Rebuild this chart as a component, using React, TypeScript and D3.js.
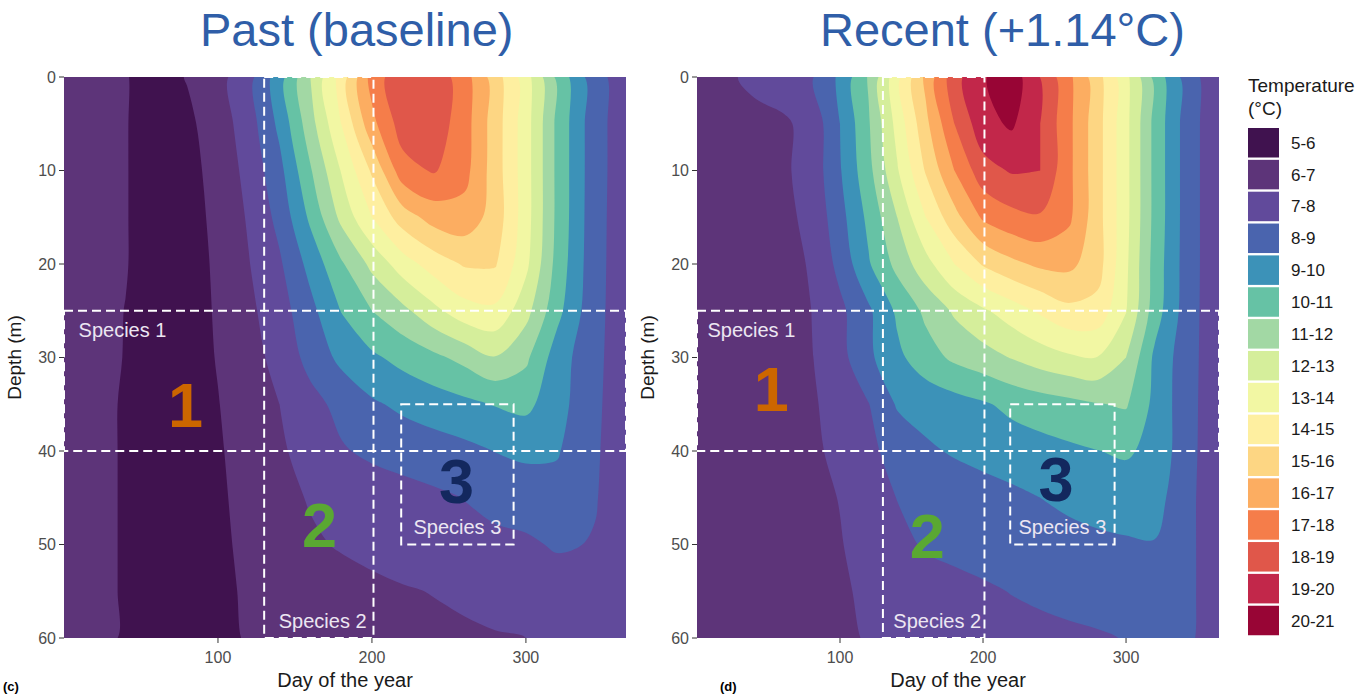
import React from "react";
import * as d3 from "d3";

// grid of the temperature field: columns are days of the year, rows are depths (m)
const days = [0, 20, 40, 60, 80, 100, 120, 140, 160, 180, 200, 220, 240, 260, 280, 300, 320, 345, 365];
const depths = [0, 5, 10, 15, 20, 25, 30, 35, 40, 45, 50, 55, 60];

// Past (baseline), °C, one row per depth
const pastTemp = [
  [6.6, 6.3, 6.05, 5.6, 6.05, 6.67, 7.65, 9.57, 12.0, 14.4, 17.4, 18.8, 18.7, 17.45, 15.5, 13.45, 10.8, 8.33, 7.5],
  [6.6, 6.3, 6.05, 5.5, 5.8, 6.48, 7.53, 9.25, 11.6, 14.0, 16.7, 18.5, 18.6, 17.45, 15.5, 13.45, 10.8, 8.33, 7.5],
  [6.55, 6.3, 6.05, 5.5, 5.7, 6.32, 7.31, 8.7, 10.9, 13.05, 15.15, 17.6, 18.1, 17.35, 15.5, 13.45, 10.8, 8.33, 7.5],
  [6.5, 6.3, 6.05, 5.5, 5.65, 6.22, 7.11, 8.3, 10.2, 12.25, 14.0, 15.5, 16.4, 16.6, 15.6, 13.45, 10.8, 8.3, 7.5],
  [6.5, 6.3, 6.05, 5.5, 5.6, 6.15, 6.96, 7.86, 9.33, 10.86, 12.25, 13.53, 14.45, 15.1, 15.1, 13.25, 10.67, 8.28, 7.5],
  [6.5, 6.3, 5.98, 5.5, 5.6, 6.1, 6.79, 7.56, 8.7, 10.03, 11.0, 11.74, 12.72, 13.6, 13.8, 12.35, 10.33, 8.25, 7.5],
  [6.45, 6.25, 5.97, 5.5, 5.6, 6.05, 6.63, 7.32, 8.33, 9.24, 9.82, 10.32, 10.77, 11.3, 11.95, 11.2, 9.53, 8.2, 7.5],
  [6.4, 6.2, 5.93, 5.5, 5.6, 5.97, 6.47, 7.0, 7.67, 8.29, 8.86, 9.2, 9.5, 9.75, 10.05, 10.25, 9.41, 8.15, 7.5],
  [6.4, 6.2, 5.93, 5.5, 5.6, 5.9, 6.39, 6.86, 7.37, 7.9, 8.2, 8.4, 8.55, 8.75, 9.02, 9.2, 9.1, 8.1, 7.5],
  [6.4, 6.2, 5.93, 5.5, 5.6, 5.85, 6.3, 6.72, 7.07, 7.25, 7.45, 7.63, 7.82, 8.02, 8.25, 8.45, 8.6, 8.05, 7.5],
  [6.4, 6.2, 5.93, 5.45, 5.55, 5.8, 6.23, 6.55, 6.87, 7.08, 7.25, 7.4, 7.55, 7.7, 7.8, 7.85, 8.1, 7.95, 7.5],
  [6.4, 6.2, 5.93, 5.45, 5.5, 5.75, 6.15, 6.35, 6.5, 6.65, 6.8, 6.93, 7.03, 7.15, 7.3, 7.45, 7.55, 7.6, 7.5],
  [6.4, 6.2, 5.93, 5.45, 5.5, 5.7, 6.1, 6.25, 6.4, 6.5, 6.6, 6.7, 6.8, 6.87, 6.94, 7.0, 7.25, 7.45, 7.5],
];

// Recent (+1.14°C)
const recentTemp = [
  [6.6, 6.85, 7.2, 7.5, 7.9, 9.2, 11.1, 13.7, 16.25, 18.63, 19.9, 20.6, 18.97, 17.25, 15.4, 13.3, 10.7, 8.3, 7.4],
  [6.55, 6.65, 6.75, 6.85, 7.3, 9.0, 10.9, 13.35, 15.75, 18.0, 19.65, 20.15, 19.0, 17.25, 15.4, 13.3, 10.7, 8.3, 7.4],
  [6.55, 6.6, 6.7, 6.85, 7.35, 8.92, 10.7, 12.9, 15.1, 17.0, 18.6, 19.1, 19.0, 17.25, 15.4, 13.3, 10.7, 8.3, 7.4],
  [6.55, 6.6, 6.7, 6.8, 7.2, 8.65, 10.25, 12.0, 14.0, 15.65, 17.15, 17.7, 17.9, 17.2, 15.4, 13.3, 10.7, 8.3, 7.4],
  [6.55, 6.6, 6.7, 6.8, 7.05, 8.3, 9.9, 11.3, 12.65, 14.0, 15.1, 15.75, 16.2, 16.25, 15.45, 13.2, 10.6, 8.3, 7.4],
  [6.5, 6.55, 6.65, 6.75, 7.0, 7.77, 8.83, 10.18, 11.22, 12.15, 12.85, 13.5, 14.15, 14.75, 14.65, 13.05, 10.5, 8.28, 7.4],
  [6.5, 6.55, 6.62, 6.72, 6.95, 7.67, 8.8, 9.77, 10.57, 11.2, 11.6, 12.05, 12.5, 12.85, 12.97, 12.0, 9.8, 8.25, 7.4],
  [6.45, 6.5, 6.58, 6.68, 6.88, 7.36, 7.97, 9.1, 9.35, 9.6, 9.88, 10.25, 10.5, 10.7, 10.95, 11.1, 9.75, 8.22, 7.4],
  [6.45, 6.5, 6.58, 6.65, 6.82, 7.23, 7.78, 8.35, 8.85, 9.1, 9.3, 9.47, 9.65, 9.82, 9.98, 10.12, 9.75, 8.2, 7.4],
  [6.45, 6.5, 6.55, 6.62, 6.75, 7.03, 7.54, 8.02, 8.25, 8.45, 8.62, 8.8, 9.0, 9.2, 9.38, 9.5, 9.4, 8.15, 7.4],
  [6.45, 6.5, 6.52, 6.58, 6.7, 6.95, 7.35, 7.75, 8.1, 8.25, 8.38, 8.5, 8.6, 8.7, 8.8, 8.88, 8.95, 8.15, 7.4],
  [6.45, 6.5, 6.52, 6.56, 6.65, 6.87, 7.17, 7.4, 7.58, 7.72, 7.87, 8.03, 8.15, 8.25, 8.33, 8.4, 8.45, 8.15, 7.4],
  [6.45, 6.5, 6.52, 6.55, 6.62, 6.8, 7.08, 7.22, 7.35, 7.47, 7.58, 7.68, 7.77, 7.85, 7.92, 8.03, 8.1, 8.12, 7.4],
];

const bands = ["5-6", "6-7", "7-8", "8-9", "9-10", "10-11", "11-12", "12-13", "13-14", "14-15", "15-16", "16-17", "17-18", "18-19", "19-20", "20-21"];
const bandColors = [
  "#40124f", "#5d3479", "#614a9b", "#4a64ae", "#3c92b8", "#66c2a5", "#a2d8a4", "#d5ee9b",
  "#f2f7a3", "#feefa0", "#fdd683", "#fcad61", "#f57d4a", "#e0574a", "#c2274a", "#980535",
];

const dayTicks = [100, 200, 300];
const depthTicks = [0, 10, 20, 30, 40, 50, 60];

// species boxes: [day from, day to, depth from, depth to]
const species1Box = [0, 365, 25, 40];
const species2Box = [130, 201, 0, 60];
const species3Box = [219, 292, 35, 50];

const FONT = "'Liberation Sans', Arial, Helvetica, sans-serif";
const Y0 = 77, Y1 = 638;

const nx = days.length, ny = depths.length;
const idxDay = d3.scaleLinear().domain(d3.range(nx)).range(days).clamp(true);
const idxDepth = d3.scaleLinear().domain(d3.range(ny)).range(depths).clamp(true);

function contourLayers(grid, x, y) {
  const values = grid.flat();
  const gen = d3.contours().size([nx, ny]).thresholds(d3.range(6, 21));
  const pad = 15;
  const [xa, xb] = x.range();
  const [ya, yb] = y.range();
  const px = (c) => (c <= 0 ? xa - pad : c >= nx ? xb + pad : x(idxDay(c - 0.5)));
  const py = (c) => (c <= 0 ? ya - pad : c >= ny ? yb + pad : y(idxDepth(c - 0.5)));
  const line = d3.line().curve(d3.curveCatmullRomClosed.alpha(0.5));
  return gen(values).map((mp) => ({
    value: mp.value,
    d: mp.coordinates
      .map((poly) => poly.map((ring) => line(ring.slice(0, -1).map(([a, b]) => [px(a), py(b)]))).join(""))
      .join(""),
  }));
}

function Panel({ id, temp, x0, x1, labels }) {
  const x = d3.scaleLinear().domain([0, 365]).range([x0, x1]);
  const y = d3.scaleLinear().domain([0, 60]).range([Y0, Y1]);
  const layers = contourLayers(temp, x, y);
  const box = (b, k) => (
    <rect key={k} x={x(b[0])} y={y(b[2])} width={x(b[1]) - x(b[0])} height={y(b[3]) - y(b[2])}
      fill="none" stroke="#ffffff" strokeWidth={2} strokeDasharray="9,5" />
  );
  const white = "#ece6f2";
  return (
    <g>
      <defs>
        <clipPath id={id}>
          <rect x={x0} y={Y0} width={x1 - x0} height={Y1 - Y0} />
        </clipPath>
      </defs>
      <g clipPath={`url(#${id})`}>
        <rect x={x0} y={Y0} width={x1 - x0} height={Y1 - Y0} fill={bandColors[0]} />
        {layers.map((l) => (
          <path key={l.value} d={l.d} fill={bandColors[l.value - 5]} />
        ))}
      </g>
      {box(species1Box, "s1")}
      {box(species2Box, "s2")}
      {box(species3Box, "s3")}

      <text x={x(labels.s1[0])} y={y(labels.s1[1])} fill={white} fontSize={20} textAnchor="middle" fontFamily={FONT}>Species 1</text>
      <text x={x(labels.s2[0])} y={y(labels.s2[1])} fill={white} fontSize={20} textAnchor="middle" fontFamily={FONT}>Species 2</text>
      <text x={x(labels.s3[0])} y={y(labels.s3[1])} fill={white} fontSize={20} textAnchor="middle" fontFamily={FONT}>Species 3</text>
      <text x={x(labels.n1[0])} y={y(labels.n1[1])} fill="#cc6600" fontSize={63} fontWeight="bold" textAnchor="middle" fontFamily={FONT}>1</text>
      <text x={x(labels.n2[0])} y={y(labels.n2[1])} fill="#5aa832" fontSize={63} fontWeight="bold" textAnchor="middle" fontFamily={FONT}>2</text>
      <text x={x(labels.n3[0])} y={y(labels.n3[1])} fill="#13285e" fontSize={63} fontWeight="bold" textAnchor="middle" fontFamily={FONT}>3</text>

      {depthTicks.map((t) => (
        <g key={"y" + t}>
          <line x1={x0 - 5} x2={x0} y1={y(t)} y2={y(t)} stroke="#333333" strokeWidth={1} />
          <text x={x0 - 8} y={y(t) + 5.5} textAnchor="end" fontSize={16} fill="#4d4d4d" fontFamily={FONT}>{t}</text>
        </g>
      ))}
      {dayTicks.map((t) => (
        <g key={"x" + t}>
          <line x1={x(t)} x2={x(t)} y1={Y1} y2={Y1 + 5} stroke="#333333" strokeWidth={1} />
          <text x={x(t)} y={Y1 + 25} textAnchor="middle" fontSize={16} fill="#4d4d4d" fontFamily={FONT}>{t}</text>
        </g>
      ))}
      <text x={(x0 + x1) / 2} y={687} textAnchor="middle" fontSize={20} fill="#1a1a1a" fontFamily={FONT}>Day of the year</text>
      <text transform={`translate(${x0 - 43},${(Y0 + Y1) / 2}) rotate(-90)`} textAnchor="middle" fontSize={19} fill="#1a1a1a" fontFamily={FONT}>Depth (m)</text>
    </g>
  );
}

export default function App() {
  const keyTop = 128, keyStep = 31.85, keyH = 29.5;
  return (
    <svg width={1370} height={694} style={{ position: "absolute", left: 0, top: 0, background: "#ffffff" }}>
      <text x={200} y={46} fontSize={47} fill="#2f5ea8" fontFamily={FONT}>Past (baseline)</text>
      <text x={820} y={46} fontSize={47} fill="#2f5ea8" fontFamily={FONT}>Recent (+1.14°C)</text>

      <Panel id="clipPast" temp={pastTemp} x0={64} x1={626}
        labels={{ s1: [38, 27.8], s2: [168, 58.9], s3: [255.5, 48.9], n1: [79, 37.4], n2: [166, 50.3], n3: [255, 45.6] }} />
      <Panel id="clipRecent" temp={recentTemp} x0={697} x1={1219}
        labels={{ s1: [38, 27.8], s2: [168, 58.9], s3: [255.5, 48.9], n1: [52, 35.7], n2: [161, 51.4], n3: [251, 45.3] }} />

      <text x={1248} y={92} fontSize={19} fill="#1a1a1a" fontFamily={FONT}>Temperature</text>
      <text x={1248} y={115} fontSize={19} fill="#1a1a1a" fontFamily={FONT}>(°C)</text>
      {bands.map((b, i) => (
        <g key={b}>
          <rect x={1248} y={keyTop + i * keyStep} width={31} height={keyH} fill={bandColors[i]} />
          <text x={1291} y={keyTop + i * keyStep + keyH / 2 + 6} fontSize={17} fill="#1a1a1a" fontFamily={FONT}>{b}</text>
        </g>
      ))}

      <text x={3} y={691} fontSize={13} fontWeight="bold" fill="#000000" fontFamily={FONT}>(c)</text>
      <text x={720} y={691} fontSize={13} fontWeight="bold" fill="#000000" fontFamily={FONT}>(d)</text>
    </svg>
  );
}
